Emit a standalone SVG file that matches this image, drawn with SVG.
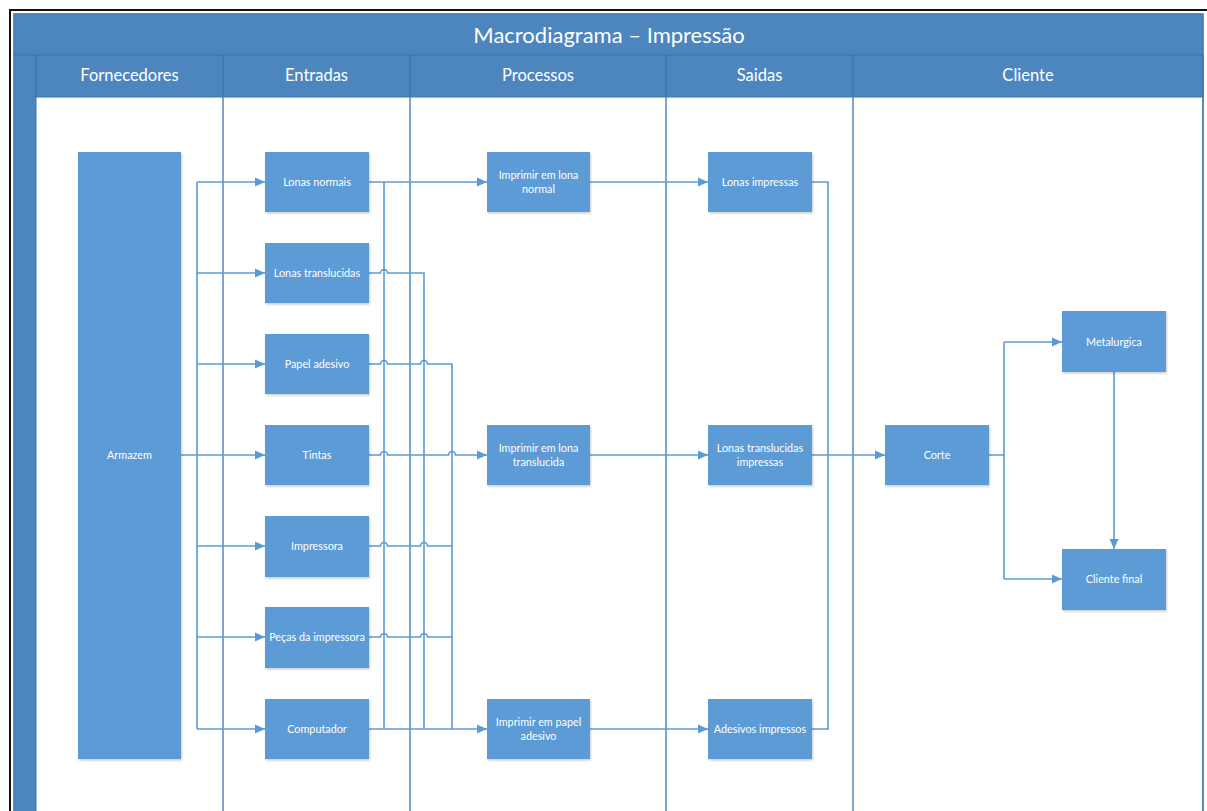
<svg xmlns="http://www.w3.org/2000/svg" width="1207" height="811" viewBox="0 0 1207 811">
  <style>
    .frame { fill: none; stroke: #111; stroke-width: 2; }
    .pool { fill: #ffffff; stroke: #4279b0; stroke-width: 1.2; }
    .band { fill: #4d86bf; stroke: #3f74aa; stroke-width: 1; }
    .divider { stroke: #3f74aa; stroke-width: 1.3; fill: none; }
    .title { font-family: Lato, "Open Sans", "Liberation Sans", sans-serif; font-size: 22px; fill: #ffffff; text-anchor: middle; }
    .lane { font-family: Lato, "Open Sans", "Liberation Sans", sans-serif; font-size: 16.5px; fill: #ffffff; text-anchor: middle; }
    .box { fill: #5b9bd5; filter: url(#shadow); }
    .label { font-family: Lato, "Open Sans", "Liberation Sans", sans-serif; font-size: 10.8px; fill: #ffffff; text-anchor: middle; }
    .wire { fill: none; stroke: #5b9bd5; stroke-width: 1.6; }
    .arrow { fill: none; stroke: #5b9bd5; stroke-width: 1.6; marker-end: url(#head); }
  </style>
  <defs>
    <marker id="head" markerUnits="userSpaceOnUse" markerWidth="11" markerHeight="10" refX="10" refY="5" orient="auto">
      <path d="M0,0.5 L10,5 L0,9.5 z" fill="#5b9bd5"/>
    </marker>
    <filter id="shadow" x="-10%" y="-10%" width="130%" height="130%">
      <feDropShadow dx="1" dy="1.5" stdDeviation="1" flood-color="#000" flood-opacity="0.2"/>
    </filter>
  </defs>

  <!-- outer frame -->
  <path class="frame" d="M10,811 V10 H1207"/>

  <!-- pool with title, lane headers and lanes -->
  <g id="pool">
    <rect class="pool" x="14" y="14" width="1189" height="800"/>
    <rect class="band" x="14" y="14" width="1189" height="41"/>
    <text class="title" x="609" y="43">Macrodiagrama – Impressão</text>
    <rect class="band" x="14" y="55" width="22" height="760"/>
    <rect class="band" x="36" y="55" width="1167" height="42"/>
    <path class="divider" d="M223,55 V811 M410,55 V811 M666,55 V811 M853,55 V811 M1203,55 V811"/>
    <text class="lane" x="129.5" y="81">Fornecedores</text>
    <text class="lane" x="316.5" y="81">Entradas</text>
    <text class="lane" x="538" y="81">Processos</text>
    <text class="lane" x="759.5" y="81">Saidas</text>
    <text class="lane" x="1028" y="81">Cliente</text>
  </g>

  <!-- connectors -->
  <g id="connectors">
    <!-- Armazem to inputs -->
    <path class="wire" d="M181,455 H197 M197,182 V729"/>
    <path class="arrow" d="M197,182 H265"/>
    <path class="arrow" d="M197,273 H265"/>
    <path class="arrow" d="M197,364 H265"/>
    <path class="arrow" d="M197,455 H265"/>
    <path class="arrow" d="M197,546 H265"/>
    <path class="arrow" d="M197,637 H265"/>
    <path class="arrow" d="M197,729 H265"/>

    <!-- inputs to processes -->
    <path class="arrow" d="M369,182 H487"/>
    <path class="wire" d="M384,182 V729"/>
    <path class="wire" d="M369,273 H380.5 a3.5,3.5 0 0 1 7,0 H424 V729"/>
    <path class="wire" d="M369,364 H380.5 a3.5,3.5 0 0 1 7,0 H420.5 a3.5,3.5 0 0 1 7,0 H452 V729"/>
    <path class="arrow" d="M369,455 H380.5 a3.5,3.5 0 0 1 7,0 H448.5 a3.5,3.5 0 0 1 7,0 H487"/>
    <path class="wire" d="M369,546 H380.5 a3.5,3.5 0 0 1 7,0 H420.5 a3.5,3.5 0 0 1 7,0 H452"/>
    <path class="wire" d="M369,637 H380.5 a3.5,3.5 0 0 1 7,0 H420.5 a3.5,3.5 0 0 1 7,0 H452"/>
    <path class="arrow" d="M369,729 H487"/>

    <!-- processes to outputs -->
    <path class="arrow" d="M590,182 H708"/>
    <path class="arrow" d="M590,455 H708"/>
    <path class="arrow" d="M590,729 H708"/>

    <!-- outputs to Corte -->
    <path class="wire" d="M812,182 H828 V729 H812"/>
    <path class="arrow" d="M812,455 H885"/>

    <!-- Corte to clients -->
    <path class="wire" d="M989,455 H1004 M1004,342 V579"/>
    <path class="arrow" d="M1004,342 H1062"/>
    <path class="arrow" d="M1004,579 H1062"/>
    <path class="arrow" d="M1114,372 V549"/>
  </g>

  <!-- Fornecedores -->
  <g id="armazem">
    <rect class="box" x="78" y="152" width="103" height="607"/>
    <text class="label" x="129.5" y="459">Armazem</text>
  </g>

  <!-- Entradas -->
  <g id="lonas-normais">
    <rect class="box" x="265" y="152" width="104" height="60"/>
    <text class="label" x="317" y="186">Lonas normais</text>
  </g>
  <g id="lonas-translucidas">
    <rect class="box" x="265" y="243" width="104" height="60"/>
    <text class="label" x="317" y="277">Lonas translucidas</text>
  </g>
  <g id="papel-adesivo">
    <rect class="box" x="265" y="334" width="104" height="60"/>
    <text class="label" x="317" y="368">Papel adesivo</text>
  </g>
  <g id="tintas">
    <rect class="box" x="265" y="425" width="104" height="60"/>
    <text class="label" x="317" y="459">Tintas</text>
  </g>
  <g id="impressora">
    <rect class="box" x="265" y="516" width="104" height="61"/>
    <text class="label" x="317" y="550">Impressora</text>
  </g>
  <g id="pecas-impressora">
    <rect class="box" x="265" y="607" width="104" height="61"/>
    <text class="label" x="317" y="641">Peças da impressora</text>
  </g>
  <g id="computador">
    <rect class="box" x="265" y="699" width="104" height="60"/>
    <text class="label" x="317" y="733">Computador</text>
  </g>

  <!-- Processos -->
  <g id="imprimir-lona-normal">
    <rect class="box" x="487" y="152" width="103" height="60"/>
    <text class="label" x="538.5" y="179">Imprimir em lona</text>
    <text class="label" x="538.5" y="193">normal</text>
  </g>
  <g id="imprimir-lona-translucida">
    <rect class="box" x="487" y="425" width="103" height="60"/>
    <text class="label" x="538.5" y="452">Imprimir em lona</text>
    <text class="label" x="538.5" y="466">translucida</text>
  </g>
  <g id="imprimir-papel-adesivo">
    <rect class="box" x="487" y="699" width="103" height="60"/>
    <text class="label" x="538.5" y="726">Imprimir em papel</text>
    <text class="label" x="538.5" y="740">adesivo</text>
  </g>

  <!-- Saidas -->
  <g id="lonas-impressas">
    <rect class="box" x="708" y="152" width="104" height="60"/>
    <text class="label" x="760" y="186">Lonas impressas</text>
  </g>
  <g id="lonas-translucidas-impressas">
    <rect class="box" x="708" y="425" width="104" height="60"/>
    <text class="label" x="760" y="452">Lonas translucidas</text>
    <text class="label" x="760" y="466">impressas</text>
  </g>
  <g id="adesivos-impressos">
    <rect class="box" x="708" y="699" width="104" height="60"/>
    <text class="label" x="760" y="733">Adesivos impressos</text>
  </g>

  <!-- Cliente -->
  <g id="corte">
    <rect class="box" x="885" y="425" width="104" height="60"/>
    <text class="label" x="937" y="459">Corte</text>
  </g>
  <g id="metalurgica">
    <rect class="box" x="1062" y="311" width="104" height="61"/>
    <text class="label" x="1114" y="346">Metalurgica</text>
  </g>
  <g id="cliente-final">
    <rect class="box" x="1062" y="549" width="104" height="61"/>
    <text class="label" x="1114" y="583">Cliente final</text>
  </g>
</svg>
